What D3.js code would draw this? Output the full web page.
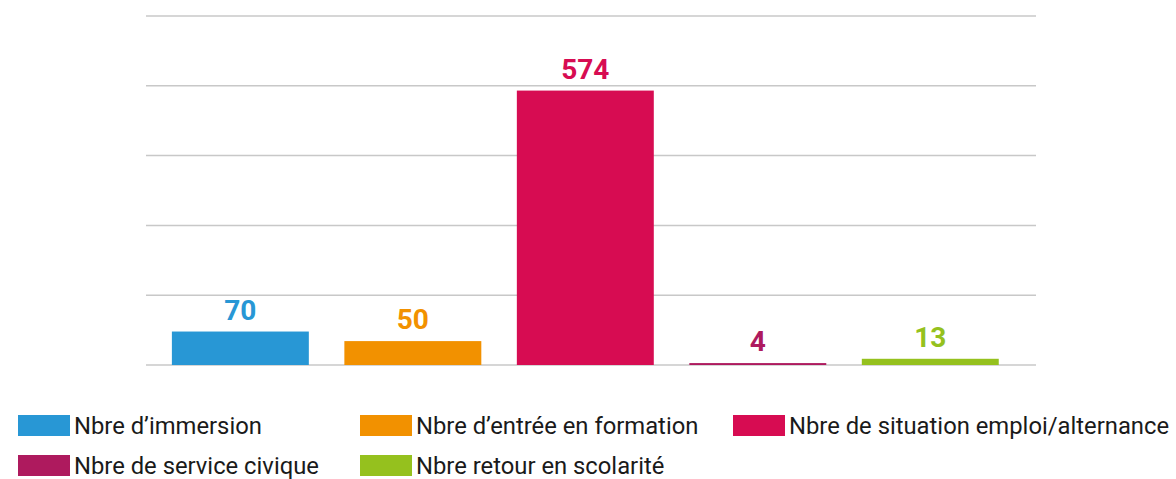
<!DOCTYPE html>
<html>
<head>
<meta charset="utf-8">
<script src="https://cdn.jsdelivr.net/npm/d3@7"></script>
<style>
  body { margin: 0; background: #fff; }
  .grid line { stroke: #c8c8c8; stroke-width: 1.5; }
  .val { font-family: Roboto, sans-serif; font-weight: 700; font-size: 28px; }
  .leg { font-family: Roboto, sans-serif; font-size: 23.8px; fill: #1a1a1a; }
</style>
</head>
<body>
<div id="chart"></div>
<script>
const categories = ["Nbre d’immersion", "Nbre d’entrée en formation", "Nbre de situation emploi/alternance", "Nbre de service civique", "Nbre retour en scolarité"]
const values = [70, 50, 574, 4, 13]
const colors = ["#2897d5", "#f29100", "#d70c52", "#ae1a5e", "#95c11e"]
const gridTicks = [0, 146, 292, 438, 584, 730]

const W = 1176, H = 479
const plot = {left: 146, right: 1036, top: 16, bottom: 365}

const svg = d3.select("#chart").append("svg")
    .attr("width", W)
    .attr("height", H)

const x = d3.scaleBand()
    .domain(categories)
    .range([plot.left, plot.right])
    .paddingInner(0.206)
    .paddingOuter(0.183)
    .align(0.41)

const y = d3.scaleLinear()
    .domain([0, 730])
    .range([plot.bottom, plot.top])

// horizontal gridlines
svg.append("g").attr("class", "grid")
  .selectAll("line")
  .data(gridTicks)
  .enter().append("line")
    .attr("x1", plot.left)
    .attr("x2", plot.right)
    .attr("y1", d => y(d))
    .attr("y2", d => y(d))

// bars
svg.append("g")
  .selectAll("rect")
  .data(values)
  .enter().append("rect")
    .attr("x", (d, i) => x(categories[i]))
    .attr("width", x.bandwidth())
    .attr("y", d => y(d))
    .attr("height", d => y(0) - y(d))
    .attr("fill", (d, i) => colors[i])

// value labels
svg.append("g")
  .selectAll("text")
  .data(values)
  .enter().append("text")
    .attr("class", "val")
    .attr("text-anchor", "middle")
    .attr("x", (d, i) => x(categories[i]) + x.bandwidth() / 2)
    .attr("y", d => y(d) - 12)
    .attr("fill", (d, i) => colors[i])
    .text(d => d)

// legend, 3 columns
const legCols = [18, 360, 733]
const legRows = [415, 455]

const leg = svg.append("g")
  .selectAll("g")
  .data(categories)
  .enter().append("g")
    .attr("transform", (d, i) => "translate(" + legCols[i % 3] + "," + legRows[Math.floor(i / 3)] + ")")

leg.append("rect")
    .attr("width", 52)
    .attr("height", 21)
    .attr("fill", (d, i) => colors[i])

leg.append("text")
    .attr("class", "leg")
    .attr("x", 56)
    .attr("y", 19)
    .text(d => d)
</script>
</body>
</html>
